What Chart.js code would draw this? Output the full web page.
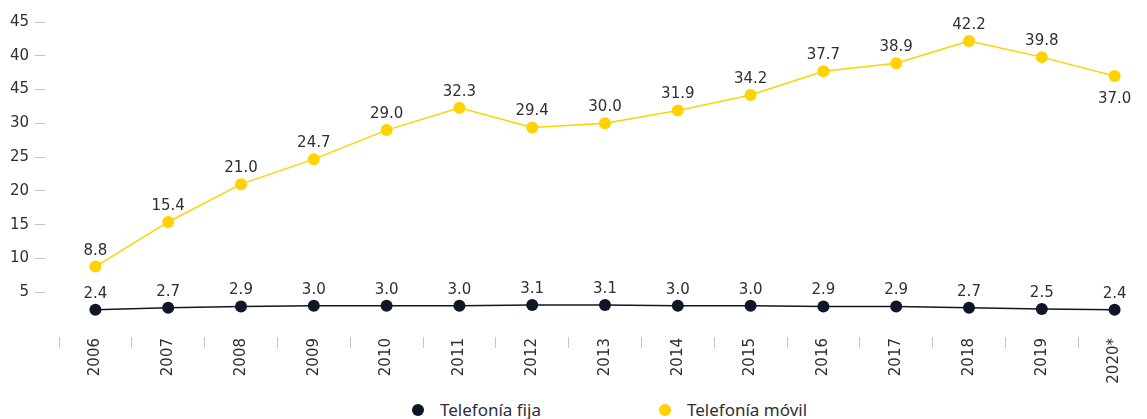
<!DOCTYPE html>
<html>
<head>
<meta charset="utf-8">
<script src="https://cdn.jsdelivr.net/npm/chart.js@4"></script>
<style>
  html, body { margin: 0; padding: 0; background: #fff; overflow: hidden; }
  #wrap { position: relative; width: 1147px; height: 419px; overflow: hidden; }
  #chart-box { width: 1157px; height: 392px; }
  #legend { position: absolute; left: 412px; top: 398px; display: flex; font-family: 'Noto Sans', sans-serif; font-size: 17px; color: #2e2e38; }
  #legend .item { display: flex; align-items: center; width: 247px; }
  #legend .dot { width: 12px; height: 12px; border-radius: 50%; margin-right: 16px; }
</style>
</head>
<body>
<div id="wrap">
  <div id="chart-box"><canvas id="chart"></canvas></div>
  <div id="legend"></div>
</div>
<script>
const years = ['2006', '2007', '2008', '2009', '2010', '2011', '2012', '2013', '2014', '2015', '2016', '2017', '2018', '2019', '2020*'];
const telefoniaFija = [2.4, 2.7, 2.9, 3.0, 3.0, 3.0, 3.1, 3.1, 3.0, 3.0, 2.9, 2.9, 2.7, 2.5, 2.4];
const telefoniaMovil = [8.8, 15.4, 21.0, 24.7, 29.0, 32.3, 29.4, 30.0, 31.9, 34.2, 37.7, 38.9, 42.2, 39.8, 37.0];
// y tick values and the text printed next to them
const yTickValues = [5, 10, 15, 20, 25, 30, 35, 40, 45];
const yTickLabels = ['5', '10', '15', '20', '25', '30', '45', '40', '45'];

const DARK = '#0e1628';
const YELLOW = '#ffd200';
const TEXT = '#2e2e38';
const TICK = '#c4c4cd';
const FONT = { family: 'DejaVu Sans', size: 15 };

// value labels above each point (last mobile value goes underneath)
const valueLabels = {
    id: 'valueLabels',
    afterDatasetsDraw(chart) {
        const ctx = chart.ctx;
        ctx.save();
        ctx.font = '15px "DejaVu Sans"';
        ctx.fillStyle = TEXT;
        ctx.textAlign = 'center';
        ctx.textBaseline = 'alphabetic';
        chart.data.datasets.forEach((ds, di) => {
            chart.getDatasetMeta(di).data.forEach((pt, i) => {
                const below = ds.label === 'Telefonía móvil' && i === ds.data.length - 1;
                const y = below ? pt.y + 27 : pt.y - 12;
                ctx.fillText(ds.data[i].toFixed(1), pt.x, y);
            });
        });
        ctx.restore();
    }
};

const chart = new Chart(document.getElementById('chart'), {
    type: 'line',
    data: {
        labels: years,
        datasets: [
            {
                label: 'Telefonía fija',
                data: telefoniaFija,
                borderColor: DARK,
                backgroundColor: DARK,
                borderWidth: 1.5,
                pointRadius: 6,
                pointHoverRadius: 6,
                pointBorderWidth: 0
            },
            {
                label: 'Telefonía móvil',
                data: telefoniaMovil,
                borderColor: YELLOW,
                backgroundColor: YELLOW,
                borderWidth: 1.5,
                pointRadius: 6,
                pointHoverRadius: 6,
                pointBorderWidth: 0
            }
        ]
    },
    options: {
        responsive: true,
        maintainAspectRatio: false,
        animation: false,
        layout: { padding: { top: 22, right: 0, bottom: 0, left: 0 } },
        plugins: {
            legend: { display: false },
            tooltip: { enabled: false }
        },
        scales: {
            x: {
                offset: true,
                border: { display: false },
                grid: {
                    offset: true,
                    drawOnChartArea: false,
                    tickLength: 22,
                    tickColor: TICK,
                    tickBorderDash: [11, 11],
                    tickBorderDashOffset: 11
                },
                ticks: {
                    color: TEXT,
                    font: FONT,
                    maxRotation: 90,
                    minRotation: 90,
                    padding: -10
                },
                afterFit(scale) { scale.height = 66; }
            },
            y: {
                min: 0,
                max: 45,
                border: { display: false },
                grid: {
                    drawOnChartArea: false,
                    tickLength: 24,
                    tickColor: TICK,
                    tickBorderDash: [10, 14]
                },
                ticks: {
                    stepSize: 5,
                    color: TEXT,
                    font: FONT,
                    padding: 6,
                    callback: (v) => yTickLabels[yTickValues.indexOf(v)]
                },
                afterBuildTicks(scale) {
                    scale.ticks = yTickValues.map(v => ({ value: v }));
                },
                afterFit(scale) { scale.width = 59; }
            }
        }
    },
    plugins: [valueLabels]
});

// legend row under the chart
const legend = document.getElementById('legend');
chart.data.datasets.forEach(ds => {
    const item = document.createElement('div');
    item.className = 'item';
    item.innerHTML = '<span class="dot" style="background:' + ds.backgroundColor + '"></span><span>' + ds.label + '</span>';
    legend.appendChild(item);
});
</script>
</body>
</html>
